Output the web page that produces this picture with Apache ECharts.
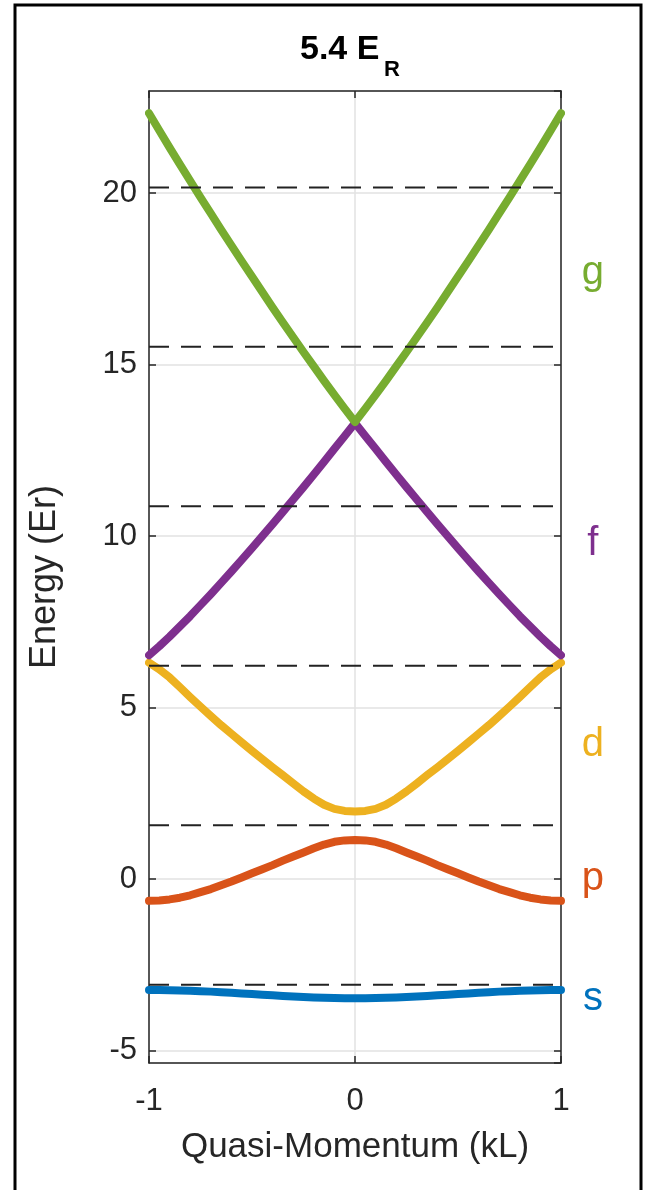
<!DOCTYPE html>
<html>
<head>
<meta charset="utf-8">
<script src="https://cdn.jsdelivr.net/npm/echarts@6/dist/echarts.min.js"></script>
<style>
  html, body { margin: 0; padding: 0; background: #fff; }
  #chart { width: 646px; height: 1190px; }
</style>
</head>
<body>
<div id="chart"></div>
<script>
// Quasi-momentum sample points (units of kL), step 0.05
const quasiMomentum = [
  -1, -0.95, -0.9, -0.85, -0.8, -0.75, -0.7, -0.65, -0.6, -0.55, -0.5,
  -0.45, -0.4, -0.35, -0.3, -0.25, -0.2, -0.15, -0.1, -0.05, 0,
  0.05, 0.1, 0.15, 0.2, 0.25, 0.3, 0.35, 0.4, 0.45, 0.5,
  0.55, 0.6, 0.65, 0.7, 0.75, 0.8, 0.85, 0.9, 0.95, 1
];

// Band energies (Er) at each quasi-momentum
const bandS = [
  -3.230, -3.231, -3.236, -3.243, -3.253, -3.265, -3.279, -3.296, -3.313, -3.331, -3.350,
  -3.369, -3.387, -3.404, -3.421, -3.435, -3.447, -3.457, -3.464, -3.469, -3.470,
  -3.469, -3.464, -3.457, -3.447, -3.435, -3.421, -3.404, -3.387, -3.369, -3.350,
  -3.331, -3.313, -3.296, -3.279, -3.265, -3.253, -3.243, -3.236, -3.231, -3.230
];
const bandP = [
  -0.63, -0.62, -0.59, -0.54, -0.47, -0.38, -0.29, -0.18, -0.07, 0.05, 0.17,
  0.29, 0.41, 0.54, 0.66, 0.78, 0.90, 1.01, 1.09, 1.13, 1.14,
  1.13, 1.09, 1.01, 0.90, 0.78, 0.66, 0.54, 0.41, 0.29, 0.17,
  0.05, -0.07, -0.18, -0.29, -0.38, -0.47, -0.54, -0.59, -0.62, -0.63
];
const bandD = [
  6.31, 6.12, 5.88, 5.60, 5.31, 5.03, 4.76, 4.49, 4.24, 3.99, 3.74,
  3.50, 3.26, 3.03, 2.79, 2.56, 2.35, 2.17, 2.05, 1.99, 1.97,
  1.99, 2.05, 2.17, 2.35, 2.56, 2.79, 3.03, 3.26, 3.50, 3.74,
  3.99, 4.24, 4.49, 4.76, 5.03, 5.31, 5.60, 5.88, 6.12, 6.31
];
const bandF = [
  6.53, 6.79, 7.07, 7.37, 7.67, 7.99, 8.31, 8.64, 8.97, 9.31, 9.65,
  10.00, 10.35, 10.71, 11.07, 11.43, 11.80, 12.17, 12.55, 12.92, 13.30,
  12.92, 12.55, 12.17, 11.80, 11.43, 11.07, 10.71, 10.35, 10.00, 9.65,
  9.31, 8.97, 8.64, 8.31, 7.99, 7.67, 7.37, 7.07, 6.79, 6.53
];
const bandG = [
  22.33, 21.83, 21.33, 20.84, 20.36, 19.88, 19.41, 18.94, 18.48, 18.02, 17.57,
  17.12, 16.67, 16.23, 15.80, 15.37, 14.95, 14.53, 14.12, 13.72, 13.33,
  13.72, 14.12, 14.53, 14.95, 15.37, 15.80, 16.23, 16.67, 17.12, 17.57,
  18.02, 18.48, 18.94, 19.41, 19.88, 20.36, 20.84, 21.33, 21.83, 22.33
];

// Harmonic-oscillator levels drawn as dashed reference lines (Er)
const levelEnergies = [-3.08, 1.57, 6.22, 10.87, 15.52, 20.17];

// Band names and where their labels sit beside the plot
const bandNames = ['s', 'p', 'd', 'f', 'g'];
const labelEnergies = [-3.50, 0.02, 3.92, 9.77, 17.66];
const labelMomentum = 1.155;

const xTicks = [-1, 0, 1];
const yRange = [-5.36, 22.98];

const bandColors = ['#0072BD', '#D95319', '#EDB120', '#7E2F8E', '#77AC30'];
const bands = [bandS, bandP, bandD, bandF, bandG];

const FONT = "'Liberation Sans', Arial, Helvetica, sans-serif";
const AXIS_COLOR = '#262626';

const chart = echarts.init(document.getElementById('chart'), null, { renderer: 'canvas' });

const bandSeries = bands.map((vals, i) => ({
  type: 'line',
  name: bandNames[i],
  data: quasiMomentum.map((q, j) => [q, vals[j]]),
  showSymbol: false,
  smooth: false,
  lineStyle: { color: bandColors[i], width: 8, cap: 'round', join: 'round' },
  itemStyle: { color: bandColors[i] },
  z: 3,
  silent: true
}));

const levelSeries = levelEnergies.map(e => ({
  type: 'line',
  data: [[xTicks[0], e], [xTicks[xTicks.length - 1], e]],
  showSymbol: false,
  lineStyle: { color: '#222', width: 2, type: [20, 12] },
  z: 4,
  silent: true
}));

// Band names beside the right axis, coloured like their bands
const labelSeries = {
  type: 'scatter',
  clip: false,
  symbol: 'circle',
  symbolSize: 1,
  itemStyle: { color: 'rgba(0,0,0,0)' },
  data: labelEnergies.map((e, i) => ({
    value: [labelMomentum, e],
    name: bandNames[i],
    label: { color: bandColors[i] }
  })),
  label: {
    show: true,
    position: 'inside',
    formatter: '{b}',
    fontSize: 40,
    fontFamily: FONT,
    opacity: 1,
    textBorderWidth: 0,
    textBorderColor: 'transparent'
  },
  z: 5,
  silent: true
};

const axisLine = { show: true, onZero: false, lineStyle: { color: AXIS_COLOR, width: 1.5 } };
const axisTick = { show: true, inside: true, length: 7, lineStyle: { color: AXIS_COLOR, width: 1.5 } };
const gridLine = { show: true, lineStyle: { color: '#e2e2e2', width: 1.5 } };

chart.setOption({
  animation: false,
  backgroundColor: '#fff',
  grid: { left: 149, right: 85, top: 91, bottom: 127, containLabel: false },
  xAxis: [
    {
      type: 'value', position: 'bottom',
      min: xTicks[0], max: xTicks[xTicks.length - 1], interval: 1,
      axisLine, axisTick, splitLine: gridLine,
      axisLabel: { fontSize: 31, color: AXIS_COLOR, margin: 23, fontFamily: FONT },
      name: 'Quasi-Momentum (kL)', nameLocation: 'middle', nameGap: 67,
      nameTextStyle: { fontSize: 35, color: AXIS_COLOR, fontFamily: FONT }
    },
    {
      type: 'value', position: 'top',
      min: xTicks[0], max: xTicks[xTicks.length - 1], interval: 1,
      axisLine, axisTick, splitLine: { show: false }, axisLabel: { show: false }
    }
  ],
  yAxis: [
    {
      type: 'value', position: 'left',
      min: yRange[0], max: yRange[1], splitNumber: 6, minInterval: 5, maxInterval: 5,
      axisLine, axisTick, splitLine: gridLine,
      axisLabel: { fontSize: 31, color: AXIS_COLOR, margin: 12, fontFamily: FONT,
                   showMinLabel: false, showMaxLabel: false },
      name: 'Energy (Er)', nameLocation: 'middle', nameGap: 86, nameRotate: 90,
      nameTextStyle: { fontSize: 36, color: AXIS_COLOR, fontFamily: FONT }
    },
    {
      type: 'value', position: 'right',
      min: yRange[0], max: yRange[1], splitNumber: 6, minInterval: 5, maxInterval: 5,
      axisLine, axisTick, splitLine: { show: false }, axisLabel: { show: false }
    }
  ],
  series: [...bandSeries, ...levelSeries, labelSeries],
  graphic: [
    {
      type: 'rect', z: -10, silent: true,
      shape: { x: 15, y: 5, width: 626, height: 1210 },
      style: { fill: 'none', stroke: '#000', lineWidth: 3 }
    },
    {
      type: 'text', left: 300, top: 33, silent: true,
      style: { text: '5.4 E', font: "bold 34px 'Liberation Sans', Arial, sans-serif", fill: '#000' }
    },
    {
      type: 'text', left: 384, top: 59, silent: true,
      style: { text: 'R', font: "bold 22px 'Liberation Sans', Arial, sans-serif", fill: '#000' }
    }
  ]
});
</script>
</body>
</html>
